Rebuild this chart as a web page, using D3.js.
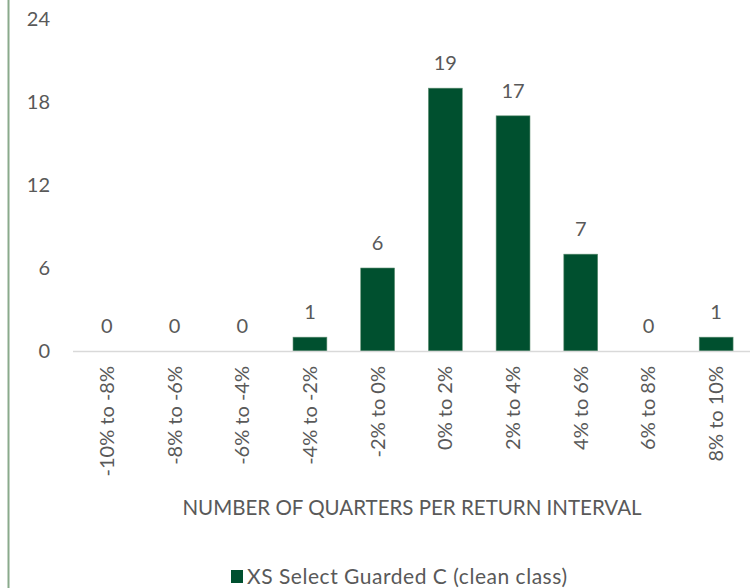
<html>
<head>
<meta charset="utf-8">
<title>Return intervals</title>
<script src="https://d3js.org/d3.v7.min.js"></script>
<style>
  body { margin: 0; background: #fff; }
  text { font-family: Lato, "Open Sans", sans-serif; fill: #595959; }
</style>
</head>
<body>
<div id="chart"></div>
<script>
// data
var categories = ["-10% to -8%", "-8% to -6%", "-6% to -4%", "-4% to -2%", "-2% to 0%",
                  "0% to 2%", "2% to 4%", "4% to 6%", "6% to 8%", "8% to 10%"];
var quarters = [0, 0, 0, 1, 6, 19, 17, 7, 0, 1];
var yTicks = [0, 6, 12, 18, 24];
var seriesName = "XS Select Guarded C (clean class)";
var axisTitle = "NUMBER OF QUARTERS PER RETURN INTERVAL";

var W = 750, H = 588;
var plotL = 73, plotR = 750, plotT = 19, plotB = 351;
var green = "#00502f";
var fs = "20px";

var svg = d3.select("#chart").append("svg")
  .attr("width", W).attr("height", H);

// frame line on the left
svg.append("line")
  .attr("x1", 8.5).attr("x2", 8.5).attr("y1", 0).attr("y2", H)
  .attr("stroke", "#8aaa8c").attr("stroke-width", 2);

var x = d3.scaleBand().domain(categories).range([plotL, plotR]).paddingInner(0.5).paddingOuter(0.25);
var y = d3.scaleLinear().domain([0, 24]).range([plotB, plotT]);

// y tick labels
svg.append("g").selectAll("text")
  .data(yTicks).enter().append("text")
  .attr("x", 50).attr("y", function(d) { return y(d); })
  .attr("dy", "0.36em").attr("text-anchor", "end")
  .style("font-size", fs)
  .text(function(d) { return d; });

// bars
svg.append("g").selectAll("rect")
  .data(quarters).enter().append("rect")
  .attr("x", function(d, i) { return x(categories[i]); })
  .attr("width", x.bandwidth())
  .attr("y", function(d) { return y(d); })
  .attr("height", function(d) { return y(0) - y(d); })
  .attr("fill", green)
  .attr("stroke", "#5f8f73").attr("stroke-width", 0.6);

// baseline
svg.append("line")
  .attr("x1", plotL).attr("x2", plotR)
  .attr("y1", y(0) + 0.5).attr("y2", y(0) + 0.5)
  .attr("stroke", "#d9d9d9").attr("stroke-width", 1.5);

// value labels
svg.append("g").selectAll("text")
  .data(quarters).enter().append("text")
  .attr("x", function(d, i) { return x(categories[i]) + x.bandwidth() / 2; })
  .attr("y", function(d) { return y(d) - 18; })
  .attr("text-anchor", "middle")
  .style("font-size", fs)
  .text(function(d) { return d; });

// category labels, rotated
svg.append("g").selectAll("text")
  .data(categories).enter().append("text")
  .attr("transform", function(d) {
    return "translate(" + (x(d) + x.bandwidth() / 2 + 7) + "," + 366 + ") rotate(-90)";
  })
  .attr("text-anchor", "end")
  .style("font-size", fs)
  .text(function(d) { return d; });

// axis title
svg.append("text")
  .attr("x", 412).attr("y", 515)
  .attr("text-anchor", "middle")
  .style("font-size", "20.5px")
  .text(axisTitle);

// legend
var lg = svg.append("g").attr("transform", "translate(231,570)");
lg.append("rect").attr("width", 12).attr("height", 13).attr("fill", green);
lg.append("text").attr("x", 16).attr("y", 14).style("font-size", "21px")
  .attr("textLength", 320).attr("lengthAdjust", "spacing")
  .text(seriesName);
</script>
</body>
</html>
